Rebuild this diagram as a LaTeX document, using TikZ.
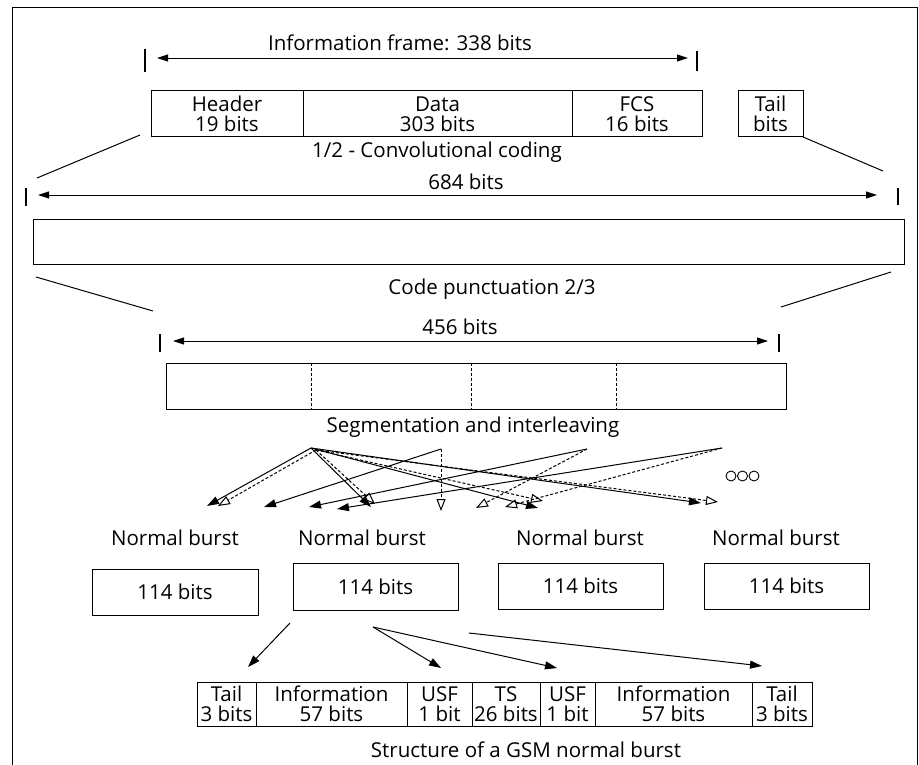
\documentclass[tikz,border=0pt]{standalone}
\usepackage{fontspec}
\setmainfont{Open Sans}
\usetikzlibrary{arrows.meta}
\begin{document}
\begin{tikzpicture}[x=1pt,y=-1pt,
  txt/.style={font=\fontsize{20.5}{20}\selectfont, inner sep=0pt},
  box/.style={draw, line width=1pt, inner sep=0pt, outer sep=0pt, align=center, font=\fontsize{20.5}{20}\selectfont},
  dim/.style={line width=0.9pt, {Triangle[length=11pt,width=7pt]}-{Triangle[length=11pt,width=7pt]}},
  tickmark/.style={line width=1.1pt},
  ln/.style={line width=1pt},
  fa/.style={line width=1pt, -{Triangle[length=12pt,width=8pt]}},
  oa/.style={line width=1pt, dash pattern=on 3pt off 2pt, -{Triangle[open,length=12pt,width=9pt]}},
  dv/.style={line width=1pt, dash pattern=on 3pt off 2pt}
]
\useasboundingbox (0,0) rectangle (919,765);
% frame
\draw[line width=1pt] (12,765) -- (12,8) -- (917,8) -- (917,765);

% --- information frame ---
\node[txt] (lif) at (400,43) {Information frame: 338 bits};
\coordinate (a1l) at (157,58); \coordinate (a1r) at (688,58);
\draw[dim] (a1l) -- (a1r);
\coordinate (t1a) at (145,49); \coordinate (t1b) at (145,72);
\coordinate (t2a) at (697,51); \coordinate (t2b) at (697,71);
\draw[tickmark] (t1a) -- (t1b); \draw[tickmark] (t2a) -- (t2b);

\node[box, minimum width=152pt, minimum height=46pt] (hdr) at (227,114) {Header\\19 bits};
\node[box, minimum width=269pt, minimum height=46pt] (dat) at (437.5,114) {Data\\303 bits};
\node[box, minimum width=130pt, minimum height=46pt] (fcs) at (637,114) {FCS\\16 bits};
\node[box, minimum width=65pt, minimum height=46pt] (tl) at (770.5,114) {Tail\\bits};
\node[txt] (lconv) at (437,152) {1/2 - Convolutional coding};

\coordinate (p1a) at (140,135); \coordinate (p1b) at (37,178);
\coordinate (p2b) at (883,171);
\draw[ln] (p1a) -- (p1b);
\draw[ln] (tl.south east) -- (p2b);

% --- 684 bits ---
\node[txt] (l684) at (466,182) {684 bits};
\coordinate (a2l) at (38,195); \coordinate (a2r) at (877,195);
\draw[dim] (a2l) -- (a2r);
\coordinate (t3a) at (26,188); \coordinate (t3b) at (26,206);
\coordinate (t4a) at (898,188); \coordinate (t4b) at (898,205);
\draw[tickmark] (t3a) -- (t3b); \draw[tickmark] (t4a) -- (t4b);
\node[box, minimum width=871pt, minimum height=45pt] (long) at (468.5,241.5) {};

\coordinate (p3a) at (36,277); \coordinate (p3b) at (153,311);
\coordinate (p4a) at (891,272); \coordinate (p4b) at (781,307);
\draw[ln] (p3a) -- (p3b); \draw[ln] (p4a) -- (p4b);
\node[txt] (lpunc) at (492,289) {Code punctuation 2/3};

% --- 456 bits ---
\node[txt] (l456) at (460,327) {456 bits};
\coordinate (a3l) at (173,341); \coordinate (a3r) at (768,341);
\draw[dim] (a3l) -- (a3r);
\coordinate (t5a) at (160,334); \coordinate (t5b) at (160,352);
\coordinate (t6a) at (779,334); \coordinate (t6b) at (779,352);
\draw[tickmark] (t5a) -- (t5b); \draw[tickmark] (t6a) -- (t6b);
\node[box, minimum width=620pt, minimum height=46pt] (seg) at (476,386) {};
\coordinate (d1a) at (311,363); \coordinate (d1b) at (311,409);
\coordinate (d2a) at (471,363); \coordinate (d2b) at (471,409);
\coordinate (d3a) at (616,363); \coordinate (d3b) at (616,409);
\draw[dv] (d1a) -- (d1b); \draw[dv] (d2a) -- (d2b); \draw[dv] (d3a) -- (d3b);
\node[txt] (lseg) at (473,427) {Segmentation and interleaving};

% --- interleaving ---
\coordinate (s1) at (311,448);
\coordinate (s1d) at (316,450);
\coordinate (s2) at (441,449);
\coordinate (s3) at (587,449);
\coordinate (s4) at (722,448);
\coordinate (f1) at (207,506); \coordinate (o1) at (218,506);
\coordinate (f2) at (264,507);
\coordinate (f3) at (309,507);
\coordinate (f4) at (337,509);
\coordinate (f5) at (371,507); \coordinate (o2) at (375,504);
\coordinate (o3) at (441,511);
\coordinate (o4) at (476,508);
\coordinate (o5) at (505,507);
\coordinate (f6) at (538,508); \coordinate (o6) at (543,501);
\coordinate (f7) at (701,503); \coordinate (o7) at (718,502);

\draw[fa] (s1) -- (f1);
\draw[oa] (s1d) -- (o1);
\draw[fa] (s1) -- (f5);
\draw[oa] (s1d) -- (o2);
\draw[fa] (s1) -- (f6);
\draw[oa] (s1d) -- (o6);
\draw[fa] (s1) -- (f7);
\draw[oa] (s1d) -- (o7);
\draw[fa] (s2) -- (f2);
\draw[oa] (s2) -- (o3);
\draw[fa] (s3) -- (f3);
\draw[oa] (s3) -- (o4);
\draw[fa] (s4) -- (f4);
\draw[oa] (s4) -- (o5);

\draw[line width=0.9pt] (731,476) circle (5pt) (742.5,476) circle (5pt) (754,476) circle (5pt);

% --- normal bursts ---
\node[txt] (nb1) at (175,538) {Normal burst};
\node[txt] (nb2) at (362,538) {Normal burst};
\node[txt] (nb3) at (580,538) {Normal burst};
\node[txt] (nb4) at (776,538) {Normal burst};
\node[box, minimum width=166pt, minimum height=46pt] (b1) at (175,592) {114 bits};
\node[box, minimum width=165pt, minimum height=47pt] (b2) at (375.5,586.5) {114 bits};
\node[box, minimum width=165pt, minimum height=46pt] (b3) at (580.5,586) {114 bits};
\node[box, minimum width=165pt, minimum height=46pt] (b4) at (786.5,586) {114 bits};

% --- structure ---
\node[box, minimum width=59pt, minimum height=44pt] (c1) at (226.5,704) {Tail\\3 bits};
\node[box, minimum width=151pt, minimum height=44pt] (c2) at (331.5,704) {Information\\57 bits};
\node[box, minimum width=65pt, minimum height=44pt] (c3) at (439.5,704) {USF\\1 bit};
\node[box, minimum width=68pt, minimum height=44pt] (c4) at (506,704) {TS\\26 bits};
\node[box, minimum width=55pt, minimum height=44pt] (c5) at (567.5,704) {USF\\1 bit};
\node[box, minimum width=157pt, minimum height=44pt] (c6) at (673.5,704) {Information\\57 bits};
\node[box, minimum width=60pt, minimum height=44pt] (c7) at (782,704) {Tail\\3 bits};
\node[txt] (lstr) at (526,750) {Structure of a GSM normal burst};

\coordinate (e1a) at (290,623); \coordinate (e1b) at (248,667);
\coordinate (e2a) at (373,627); \coordinate (e2b) at (441,668);
\coordinate (e3b) at (557,668);
\coordinate (e4a) at (469,633); \coordinate (e4b) at (762,666);
\draw[fa] (e1a) -- (e1b);
\draw[fa] (e2a) -- (e2b);
\draw[fa] (e2a) -- (e3b);
\draw[fa] (e4a) -- (e4b);
\end{tikzpicture}
\end{document}
